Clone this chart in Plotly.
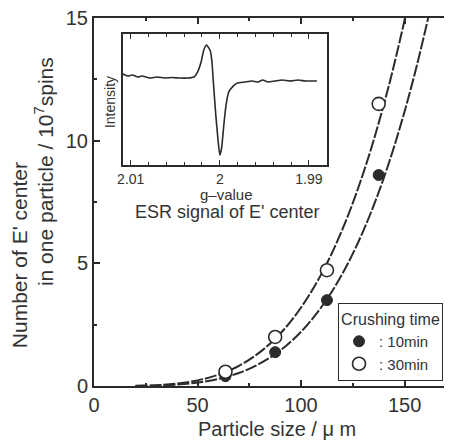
import plotly.graph_objects as go

# ---------------- data ----------------
particle_size = [63.5, 87.5, 112.5, 137.5]          # µm
spins_10min = [0.40, 1.38, 3.50, 8.60]              # 10^7 spins
spins_30min = [0.58, 2.00, 4.72, 11.50]

fit_size = [20, 30, 40, 50, 60, 70, 80, 90, 100, 110, 120, 130, 140, 150, 160, 170]
fit_30min = [0.01, 0.03, 0.10, 0.23, 0.46, 0.82, 1.37, 2.14, 3.20, 4.59, 6.39, 8.66,
             11.48, 14.92, 19.1, 24.0]
fit_10min = [0.00, 0.02, 0.06, 0.14, 0.29, 0.53, 0.91, 1.45, 2.21, 3.24, 4.58, 6.31,
             8.49, 11.19, 14.49, 18.5]

# inset ESR spectrum (g-value vs. intensity, arbitrary units)
g_value = [2.0109, 2.0103, 2.0098, 2.0092, 2.0087, 2.0079, 2.0070, 2.0062, 2.0054,
           2.0045, 2.0036, 2.0029, 2.0025, 2.0021, 2.0018, 2.0015, 2.0011, 2.0009,
           2.0007, 2.00045, 2.0002, 2.0000, 1.9998, 1.99955, 1.9993, 1.9990, 1.9985,
           1.9980, 1.9972, 1.9964, 1.9957, 1.9952, 1.9946, 1.9938, 1.9930, 1.9921,
           1.9912, 1.9904, 1.9897, 1.9891]
intensity = [91, 89, 90, 88, 89, 87, 88, 87, 87.5,
             87, 87, 88, 93, 103, 115, 120, 115, 105,
             80, 50, 25, 10, 17, 40, 60, 73, 79,
             82, 83, 84, 83, 85, 83, 84, 85, 84,
             85, 84, 84, 84]

inset_ticks = [2.01, 2.00, 1.99]
inset_ticktext = ["2.01", "2", "1.99"]

# ---------------- style ----------------
INK = "#2b2b2b"
TXT = "#333333"
FONT = "Liberation Sans, Arial, Helvetica, sans-serif"

fig = go.Figure()

fig.add_trace(go.Scatter(x=fit_size, y=fit_30min, mode="lines", showlegend=False,
                         hoverinfo="skip",
                         line=dict(color=INK, width=2, dash="12px,2px", shape="spline")))
fig.add_trace(go.Scatter(x=fit_size, y=fit_10min, mode="lines", showlegend=False,
                         hoverinfo="skip",
                         line=dict(color=INK, width=2, dash="12px,2px", shape="spline")))

fig.add_trace(go.Scatter(x=particle_size, y=spins_10min, mode="markers", name=": 10min",
                         marker=dict(symbol="circle", size=11, color=INK,
                                     line=dict(color=INK, width=1))))
fig.add_trace(go.Scatter(x=particle_size, y=spins_30min, mode="markers", name=": 30min",
                         marker=dict(symbol="circle", size=13, color="white",
                                     line=dict(color=INK, width=1.6))))

fig.add_trace(go.Scatter(x=g_value, y=intensity, xaxis="x2", yaxis="y2", mode="lines",
                         showlegend=False, hoverinfo="skip",
                         line=dict(color=INK, width=1.6, shape="spline", smoothing=0.5)))

fig.update_layout(
    width=444, height=432,
    margin=dict(l=86, r=0, t=10, b=54, pad=0),
    paper_bgcolor="white", plot_bgcolor="white",
    font=dict(family=FONT, color=TXT, size=15),
    xaxis=dict(domain=[0, 1], range=[0, 172.9], showline=True, linecolor=INK, linewidth=2,
               mirror="ticks", ticks="inside", ticklen=6, tickwidth=1.5, tickcolor=INK,
               tick0=0, dtick=50, showgrid=False, zeroline=False,
               ticklabeloverflow="allow",
               tickfont=dict(size=20, color=TXT),
               minor=dict(ticks="inside", ticklen=3, tickwidth=1.5, tickcolor=INK,
                          dtick=25, showgrid=False)),
    yaxis=dict(domain=[0, 1], range=[0, 15], showline=True, linecolor=INK, linewidth=2,
               mirror=False, ticks="inside", ticklen=6, tickwidth=1.5, tickcolor=INK,
               tick0=0, dtick=5, showgrid=False, zeroline=False,
               ticklabeloverflow="allow",
               tickfont=dict(size=20, color=TXT),
               minor=dict(ticks="inside", ticklen=3, tickwidth=1.5, tickcolor=INK,
                          dtick=2.5, showgrid=False)),
    xaxis2=dict(domain=[0.0802, 0.650], anchor="y2", range=[2.0109, 1.9880],
                showline=True, linecolor=INK, linewidth=1.5, mirror="ticks",
                ticks="inside", ticklen=5, tickwidth=1, tickcolor=INK,
                tickmode="array", tickvals=inset_ticks, ticktext=inset_ticktext,
                showgrid=False, zeroline=False, tickfont=dict(size=14, color=TXT),
                minor=dict(ticks="inside", ticklen=3, tickwidth=1, tickcolor=INK,
                           tick0=1.99, dtick=0.002, showgrid=False)),
    yaxis2=dict(domain=[0.6002, 0.9557], anchor="x2", range=[0, 130.7],
                showline=True, linecolor=INK, linewidth=1.5, mirror=True,
                ticks="", showticklabels=False, showgrid=False, zeroline=False),
    legend=dict(x=0.6816, y=0.2249, xanchor="left", yanchor="top",
                bgcolor="white", bordercolor=INK, borderwidth=1,
                font=dict(size=15, color=TXT), tracegroupgap=0,
                title=dict(text="Crushing time", side="top center",
                           font=dict(size=16, color=TXT))),
    annotations=[
        dict(text="Number of E' center", xref="paper", yref="paper",
             x=-0.2095, y=0.3555, textangle=-90, showarrow=False,
             xanchor="center", yanchor="middle", font=dict(size=21, color=TXT)),
        dict(text="in one particle / 10<sup>7</sup>spins", xref="paper", yref="paper",
             x=-0.1397, y=0.584, textangle=-90, showarrow=False,
             xanchor="center", yanchor="middle", font=dict(size=21, color=TXT)),
        dict(text="Particle size / μ m", xref="paper", yref="paper",
             x=0.511, y=-0.1155, showarrow=False,
             xanchor="center", yanchor="middle", font=dict(size=20, color=TXT)),
        dict(text="Intensity", xref="paper", yref="paper",
             x=0.0447, y=0.7716, textangle=-90, showarrow=False,
             xanchor="center", yanchor="middle", font=dict(size=14, color=TXT)),
        dict(text="g–value", xref="paper", yref="paper",
             x=0.3715, y=0.5214, showarrow=False,
             xanchor="center", yanchor="middle", font=dict(size=15, color=TXT)),
        dict(text="ESR signal of E' center", xref="paper", yref="paper",
             x=0.374, y=0.4723, showarrow=False,
             xanchor="center", yanchor="middle", font=dict(size=18, color=TXT)),
    ],
)

fig.write_html("out.html")
